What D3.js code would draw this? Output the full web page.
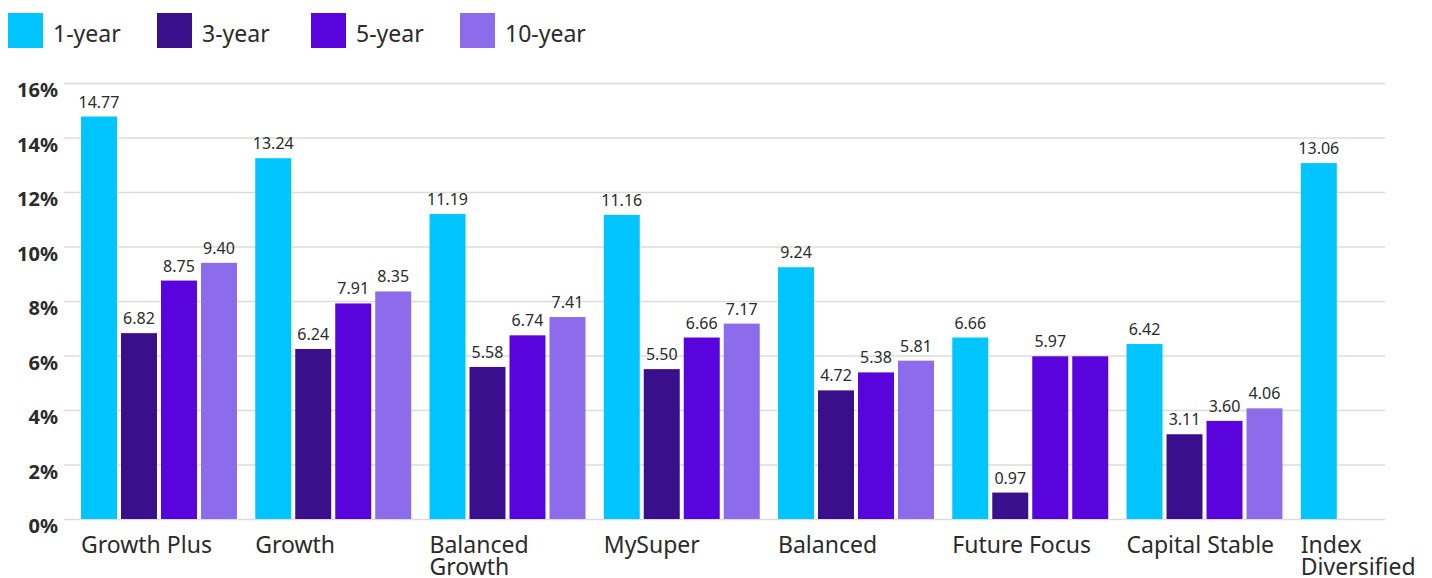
<!DOCTYPE html>
<html lang="en">
<head>
<meta charset="UTF-8">
<title>Returns</title>
<script src="https://cdn.jsdelivr.net/npm/d3@7"></script>
<style>
  body { margin: 0; background: #fff; }
  text { font-family: "Noto Sans", sans-serif; fill: #2b2b2b; }
</style>
</head>
<body>
<script>
// data
var categories = ["Growth Plus", "Growth", "Balanced Growth", "MySuper", "Balanced", "Future Focus", "Capital Stable", "Index Diversified"];
var seriesNames = ["1-year", "3-year", "5-year", "10-year"];
var oneYear = [14.77, 13.24, 11.19, 11.16, 9.24, 6.66, 6.42, 13.06];
var threeYear = [6.82, 6.24, 5.58, 5.50, 4.72, 0.97, 3.11, null];
var fiveYear = [8.75, 7.91, 6.74, 6.66, 5.38, 5.97, 3.60, null];
var tenYear = [9.40, 8.35, 7.41, 7.17, 5.81, 5.97, 4.06, null];
var yTicks = [0, 2, 4, 6, 8, 10, 12, 14, 16];
// in the original the Future Focus 10-year bar is shown in the 5-year colour, unlabelled
var tenYearAs5yr = ["Future Focus"];

var colors = ["#00c5ff", "#3a0f8c", "#5a04dd", "#8c6ceb"];
var allSeries = [oneYear, threeYear, fiveYear, tenYear];

var width = 1432, height = 578;
var svg = d3.select('body').append('svg')
    .attr('width', width)
    .attr('height', height);

var plotLeft = 64, plotRight = 1385, plotTop = 83, plotBottom = 519;

var x0 = d3.scaleBand()
    .domain(categories)
    .range([81, 1456.75])
    .paddingInner(0.105)
    .paddingOuter(0);
var x1 = d3.scaleBand()
    .domain(seriesNames)
    .range([0, x0.bandwidth()])
    .paddingInner(0.1);
var y = d3.scaleLinear()
    .domain([0, 16])
    .range([plotBottom, plotTop]);

// grid + y axis
var yAxis = d3.axisLeft(y)
    .tickValues(yTicks)
    .tickFormat(function(d) { return d + '%'; })
    .tickSizeInner(-(plotRight - plotLeft))
    .tickSizeOuter(0)
    .tickPadding(6);
var gy = svg.append('g')
    .attr('transform', 'translate(' + plotLeft + ',0)')
    .call(yAxis);
gy.select('.domain').remove();
gy.selectAll('.tick line').attr('stroke', '#dcdcdc').attr('stroke-width', 1.5);
gy.selectAll('.tick text')
    .attr('dy', 13.5)
    .attr('font-size', '20px')
    .attr('font-weight', 'bold')
    .style('font-family', '"Noto Sans", sans-serif')
    .attr('fill', '#2b2b2b');

// bars
var rows = [];
categories.forEach(function(c, i) {
    seriesNames.forEach(function(s, j) {
        var v = allSeries[j][i];
        if (v == null) return;
        var special = (j === 3 && tenYearAs5yr.indexOf(c) >= 0);
        rows.push({ cat: c, series: s, value: v, color: special ? colors[2] : colors[j], label: !special });
    });
});

svg.append('g').selectAll('rect')
    .data(rows)
    .enter()
    .append('rect')
    .attr('x', function(d) { return x0(d.cat) + x1(d.series); })
    .attr('y', function(d) { return y(d.value); })
    .attr('width', x1.bandwidth())
    .attr('height', function(d) { return y(0) - y(d.value); })
    .attr('fill', function(d) { return d.color; });

svg.append('g').selectAll('text')
    .data(rows.filter(function(d) { return d.label; }))
    .enter()
    .append('text')
    .attr('x', function(d) { return x0(d.cat) + x1(d.series) + x1.bandwidth() / 2; })
    .attr('y', function(d) { return y(d.value) - 9; })
    .attr('text-anchor', 'middle')
    .attr('font-size', '16px')
    .attr('fill', '#333')
    .text(function(d) { return d.value.toFixed(2); });

// category labels (wrapped)
var catG = svg.append('g');
categories.forEach(function(c) {
    var t = catG.append('text')
        .attr('x', x0(c))
        .attr('y', 553)
        .attr('font-size', '23px');
    var words = c.split(' ');
    var line = [];
    var tspan = t.append('tspan').attr('x', x0(c)).attr('dy', 0);
    words.forEach(function(w) {
        line.push(w);
        tspan.text(line.join(' '));
        if (tspan.node().getComputedTextLength() > 168 && line.length > 1) {
            line.pop();
            tspan.text(line.join(' '));
            line = [w];
            tspan = t.append('tspan').attr('x', x0(c)).attr('dy', 22).text(w);
        }
    });
});

// legend
var legend = svg.append('g').selectAll('g')
    .data(seriesNames)
    .enter()
    .append('g');
var legendX = [8, 157, 311, 460];
legend.append('rect')
    .attr('x', function(d, i) { return legendX[i]; })
    .attr('y', 13)
    .attr('width', 35)
    .attr('height', 35)
    .attr('fill', function(d, i) { return colors[i]; });
legend.append('text')
    .attr('x', function(d, i) { return legendX[i] + 45; })
    .attr('y', 42)
    .attr('font-size', '23px')
    .attr('fill', '#333')
    .text(function(d) { return d; });
</script>
</body>
</html>
